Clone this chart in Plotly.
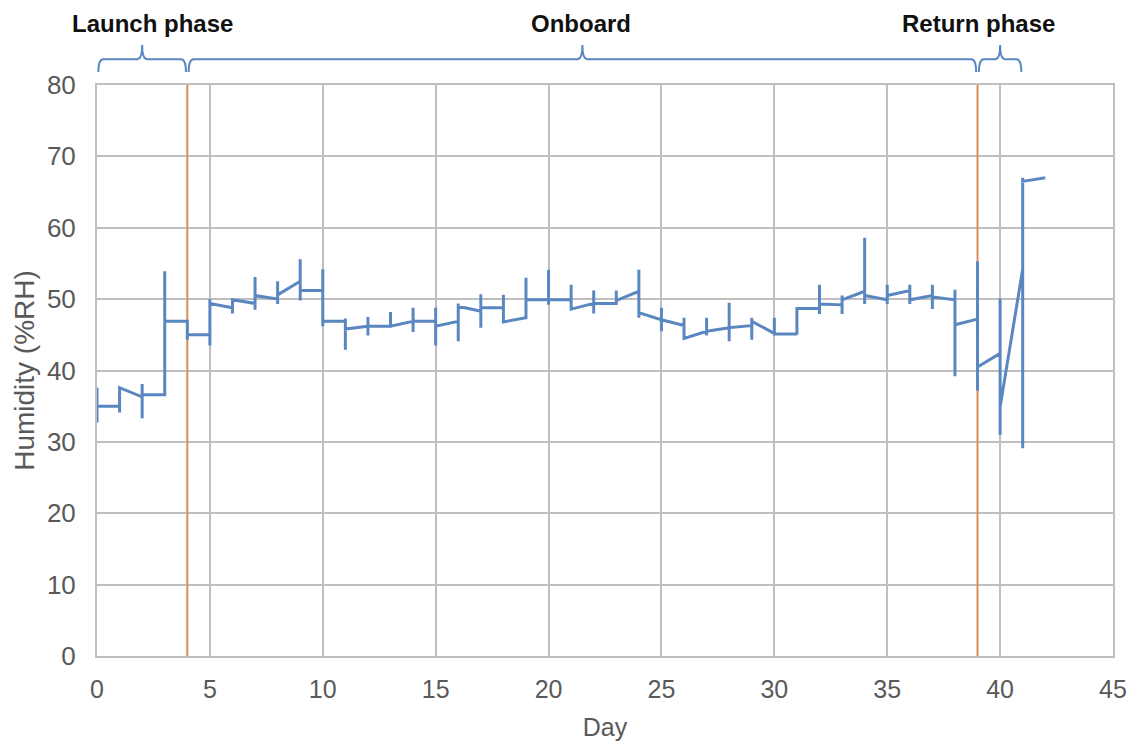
import plotly.graph_objects as go

# ---------------- data ----------------
days = list(range(0, 43))
# value where the line arrives at each day
hum_in = [35.0, 35.0, 36.3, 36.6, 46.9, 45.0, 48.8, 49.4, 50.0, 52.5,
          51.2, 46.9, 46.2, 46.2, 46.9, 46.9, 46.9, 48.3, 48.8, 47.4,
          49.9, 49.9, 49.4, 49.4, 51.1, 47.1, 46.3, 45.5, 46.0, 46.3,
          45.2, 45.1, 48.7, 49.2, 51.1, 49.9, 51.2, 50.5, 49.9, 47.2,
          42.4, 54.2, 67.0]
# daily minimum
hum_min = [32.7, 34.1, 33.3, 36.6, 44.3, 43.5, 48.0, 48.5, 49.3, 49.8,
           46.2, 42.9, 44.9, 46.0, 45.4, 43.5, 44.1, 46.0, 46.7, 47.4,
           49.2, 48.6, 48.0, 49.4, 47.4, 45.5, 44.3, 44.9, 44.1, 44.3,
           45.1, 45.0, 47.9, 47.9, 49.3, 49.3, 49.3, 48.6, 39.2, 37.2,
           31.0, 29.1, 67.0]
# daily maximum
hum_max = [37.6, 37.6, 38.1, 53.9, 46.9, 50.0, 49.9, 53.1, 52.5, 55.6,
           54.2, 47.3, 47.5, 48.2, 48.8, 48.8, 49.4, 50.7, 50.6, 53.0,
           54.1, 52.0, 51.2, 51.2, 54.1, 48.8, 47.4, 47.4, 49.5, 47.4,
           47.4, 48.7, 52.0, 50.5, 58.6, 52.0, 52.0, 52.0, 51.3, 55.3,
           50.1, 67.0, 67.0]
# value where the line leaves each day
hum_out = [35.0, 37.6, 36.6, 46.9, 45.0, 49.4, 49.9, 50.5, 50.6, 51.2,
           46.9, 45.8, 46.2, 46.2, 46.9, 46.2, 49.0, 48.8, 46.8, 49.9,
           49.9, 48.6, 49.4, 49.8, 48.1, 47.1, 44.5, 45.5, 46.0, 46.9,
           45.1, 48.7, 49.3, 49.9, 50.5, 50.5, 49.9, 50.3, 46.4, 40.5,
           34.9, 66.5, 67.0]

phase_names = ["Launch phase", "Onboard", "Return phase"]
phase_start = [0, 4, 39]
phase_end = [4, 39, 41]
phase_boundaries = [4, 39]

x_ticks = [0, 5, 10, 15, 20, 25, 30, 35, 40, 45]
y_ticks = [0, 10, 20, 30, 40, 50, 60, 70, 80]

# ---------------- styles ----------------
BLUE = "#5B87C1"
ORANGE = "#D38F5E"
GRID = "#BFBFBF"
TICK = "#595959"
FONT = "Liberation Sans, Arial, sans-serif"

# build path: in -> min -> max -> out at each day
xs, ys = [], []
for d, a, lo, hi, b in zip(days, hum_in, hum_min, hum_max, hum_out):
    xs += [d, d, d, d]
    ys += [a, lo, hi, b]

fig = go.Figure()
fig.add_trace(go.Scatter(x=xs, y=ys, mode="lines",
                         line=dict(color=BLUE, width=3),
                         showlegend=False, hoverinfo="skip"))

shapes = []
for xb in phase_boundaries:
    shapes.append(dict(type="line", xref="x", yref="y", x0=xb, x1=xb,
                       y0=0, y1=80, line=dict(color=ORANGE, width=2),
                       layer="between"))

# curly braces above plot
y0, y1, y2 = 1.0226, 1.0453, 1.0700
gap = 0.06
r = 0.22
for a, b in zip(phase_start, phase_end):
    a2, b2 = a + gap, b - gap
    m = (a + b) / 2
    path = (f"M {a2},{y0} Q {a2},{y1} {a2 + r},{y1} L {m - r},{y1} "
            f"Q {m},{y1} {m},{y2} Q {m},{y1} {m + r},{y1} "
            f"L {b2 - r},{y1} Q {b2},{y1} {b2},{y0}")
    shapes.append(dict(type="path", xref="x", yref="paper", path=path,
                       line=dict(color=BLUE, width=2)))

label_x = [2.44, 21.43, 39.04]
annotations = []
for name, lx in zip(phase_names, label_x):
    annotations.append(dict(text=f"<b>{name}</b>", x=lx, y=1.108,
                            xref="x", yref="paper", showarrow=False,
                            xanchor="center", yanchor="middle",
                            font=dict(family=FONT, size=24, color="#111111")))

fig.update_layout(
    width=1131, height=741,
    margin=dict(l=89, r=26, t=77, b=90),
    paper_bgcolor="white", plot_bgcolor="white",
    shapes=shapes, annotations=annotations,
    font=dict(family=FONT, color=TICK),
)
fig.update_xaxes(range=[0, 45], tickvals=x_ticks, showgrid=True,
                 gridcolor=GRID, gridwidth=2, zeroline=False,
                 showline=True, linecolor=GRID, linewidth=2, mirror=True,
                 ticks="", tickfont=dict(size=25, color=TICK),
                 ticklabelstandoff=10,
                 title=dict(text="Day", font=dict(size=25, color=TICK),
                            standoff=16))
fig.update_yaxes(range=[0, 80], tickvals=y_ticks, showgrid=True,
                 gridcolor=GRID, gridwidth=2, zeroline=False,
                 showline=True, linecolor=GRID, linewidth=2, mirror=True,
                 ticks="", tickfont=dict(size=26, color=TICK),
                 ticklabelstandoff=14,
                 title=dict(text="Humidity (%RH)",
                            font=dict(size=28, color=TICK), standoff=4))

fig.write_html("out.html")
